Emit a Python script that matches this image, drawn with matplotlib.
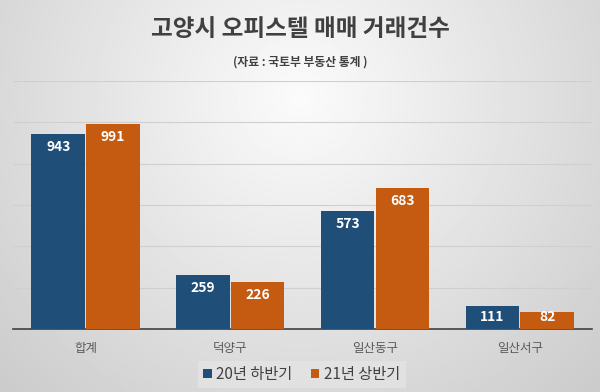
import numpy as np
import matplotlib
matplotlib.use('agg')
import matplotlib.pyplot as plt

plt.rcParams['font.family'] = ['Noto Sans CJK KR', 'DejaVu Sans']

# data
categories = ['합계', '덕양구', '일산동구', '일산서구']
series_names = ['20년 하반기', '21년 상반기']
h2_2020 = [943, 259, 573, 111]
h1_2021 = [991, 226, 683, 82]
colors = ['#1F4E79', '#C55A11']

fig = plt.figure(figsize=(6, 3.92), dpi=100)

# gray radial gradient background (light at upper centre)
bg = fig.add_axes([0, 0, 1, 1], zorder=-1)
yy, xx = np.mgrid[0:1:200j, 0:1:300j]
r = np.sqrt(((xx - 0.5) / 0.6) ** 2 + ((yy - 0.25) / 0.9) ** 2)
shade = 0.985 - 0.16 * r
bg.imshow(shade, cmap='gray', vmin=0, vmax=1, aspect='auto', extent=[0, 1, 1, 0])
bg.axis('off')

ax = fig.add_axes([0.022, 0.161, 0.965, 0.632])
ax.set_facecolor('none')

x = np.arange(len(categories))
w = 0.37
b1 = ax.bar(x - w / 2 - 0.004, h2_2020, w, color=colors[0], label=series_names[0], zorder=3)
b2 = ax.bar(x + w / 2 + 0.004, h1_2021, w, color=colors[1], label=series_names[1], zorder=3)

# value labels inside the bar ends
for bars in (b1, b2):
    for rect in bars:
        v = rect.get_height()
        ax.text(rect.get_x() + rect.get_width() / 2, max(v - 63, 58), f'{v:.0f}',
                ha='center', va='center', color='white', fontsize=10, fontweight='bold', zorder=4)

ax.set_ylim(0, 1200)
ax.set_xlim(-0.5, len(categories) - 0.5)
ax.set_yticks(range(200, 1201, 200))
ax.yaxis.grid(True, color='#cfcfcf', linewidth=0.8, zorder=0)
ax.tick_params(axis='y', left=False, labelleft=False)
ax.tick_params(axis='x', bottom=False, pad=6)
ax.set_xticks(x)
ax.set_xticklabels(categories, fontsize=9, color='#595959')
for s in ['top', 'right', 'left']:
    ax.spines[s].set_visible(False)
ax.spines['bottom'].set_color('#404040')
ax.spines['bottom'].set_linewidth(1.2)

fig.text(0.5, 0.925, '고양시 오피스텔 매매 거래건수', ha='center', va='center',
         fontsize=17, fontweight='bold', color='#404040')
fig.text(0.5, 0.842, '(자료 : 국토부 부동산 통계 )', ha='center', va='center',
         fontsize=8.5, fontweight='bold', color='#404040')

leg = fig.legend(loc='center', bbox_to_anchor=(0.503, 0.045), ncol=2, frameon=True,
                 fontsize=11, handlelength=0.55, handleheight=0.55, handletextpad=0.3,
                 columnspacing=1.2, borderpad=0.35)
leg.get_frame().set_facecolor('#e4e4e4')
leg.get_frame().set_edgecolor('none')
leg.get_frame().set_boxstyle('square', pad=0)
for t in leg.get_texts():
    t.set_color('#404040')

fig.savefig('out.png', dpi=100)
